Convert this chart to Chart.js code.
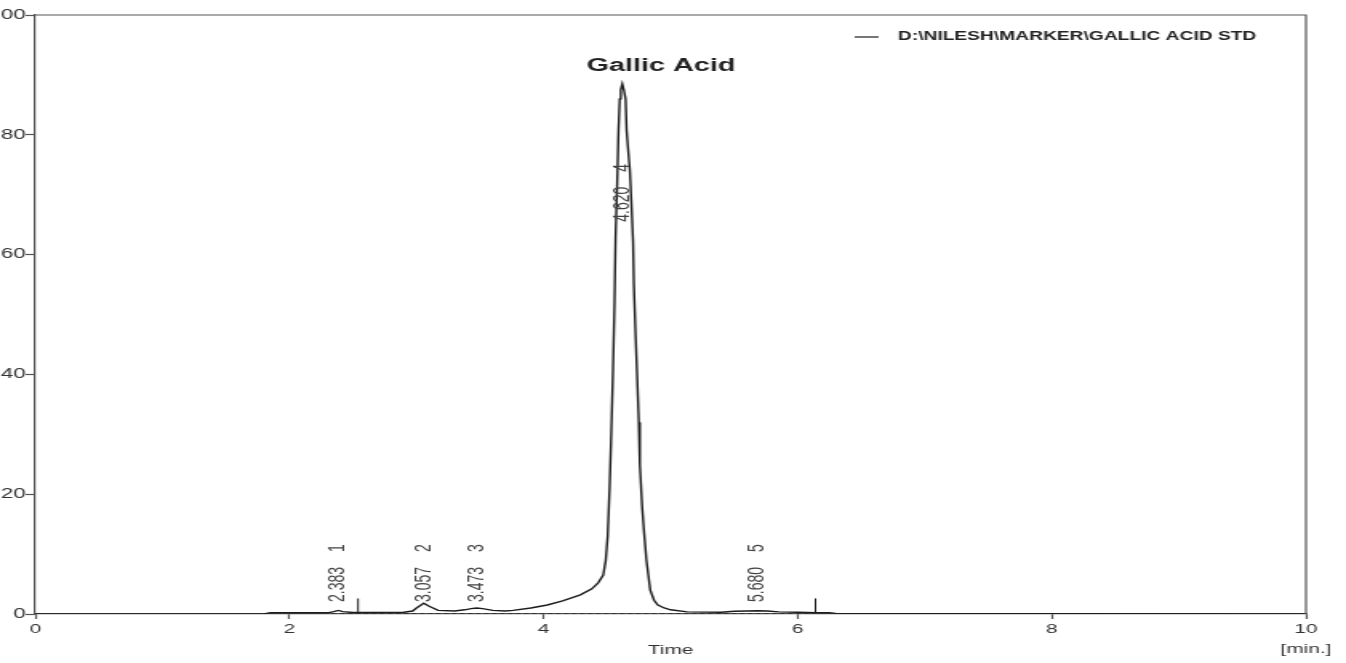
<!DOCTYPE html>
<html lang="en">
  <head>
    <meta charset="UTF-8" />
    <title>Gallic Acid STD chromatogram</title>
    <script src="https://cdn.jsdelivr.net/npm/chart.js@4.4.1/dist/chart.umd.min.js"></script>
    <style>
      body {
        margin: 0;
        background-color: white;
      }
      #chart {
        display: block;
      }
    </style>
  </head>

  <body>
    <!-- the original printout is stretched sideways, so draw narrow and let css widen it -->
    <canvas id="chart" width="841" height="663" style="width: 1346px; height: 663px"></canvas>

    <script>
      // retention time (min) and detector signal (mV)
      const timeMin = [
        0, 1.8, 1.85, 2.3, 2.35, 2.383, 2.42, 2.5, 2.9, 2.97, 3.0, 3.057, 3.1, 3.17,
        3.3, 3.38, 3.43, 3.473, 3.52, 3.6, 3.7, 3.76, 3.9, 4.03, 4.15, 4.29, 4.38,
        4.43, 4.47, 4.49, 4.505, 4.52, 4.533, 4.546, 4.559, 4.567, 4.58, 4.59, 4.6,
        4.608, 4.62, 4.632, 4.646, 4.654, 4.668, 4.68, 4.693, 4.705, 4.711, 4.724,
        4.738, 4.75, 4.758, 4.776, 4.79, 4.81, 4.84, 4.87, 4.9, 4.95, 5.0, 5.13, 5.4,
        5.5, 5.6, 5.68, 5.76, 5.85, 6.0, 6.15, 6.25, 6.3, 10,
      ];
      const signalMv = [
        0, 0, 0.2, 0.2, 0.4, 0.6, 0.4, 0.25, 0.3, 0.5, 1.0, 1.8, 1.3, 0.6,
        0.5, 0.7, 0.9, 1.0, 0.9, 0.6, 0.5, 0.6, 1.0, 1.5, 2.2, 3.2, 4.2,
        5.2, 6.5, 9, 13, 21, 30, 40, 52, 63, 72, 80.7, 86,
        87.5, 88.5, 87.5, 86, 80.7, 77, 74, 68, 62, 55, 47,
        39, 32, 25, 18, 14, 9, 4, 2.3, 1.5, 1.0, 0.7, 0.35, 0.3,
        0.45, 0.5, 0.55, 0.5, 0.35, 0.3, 0.2, 0.2, 0.1, 0,
      ];

      const peakTimes = [2.383, 3.057, 3.473, 4.62, 5.68];
      const peakNumbers = ["1", "2", "3", "4", "5"];
      const mainPeakName = "Gallic Acid";

      // integration cut marks and the drawn baseline
      const cutTimes = [2.54, 6.14];
      const cutHeight = 2.6;
      const baselineFrom = 1.83;
      const baselineTo = 6.3;

      const xTicks = [0, 2, 4, 6, 8, 10];
      const yTicks = [0, 20, 40, 60, 80, 100];
      const seriesName = "D:\\NILESH\\MARKER\\GALLIC ACID STD";

      const fontName = "'Liberation Sans', Arial, sans-serif";
      const ink = "#1c1c1c";
      const axisGrey = "#555";

      const trace = timeMin.map((t, i) => ({ x: t, y: signalMv[i] }));

      const cuts = [];
      cutTimes.forEach((t) => {
        cuts.push({ x: t, y: 0 }, { x: t, y: cutHeight }, { x: t, y: null });
      });

      function signalAt(t) {
        let best = 0;
        timeMin.forEach((v, i) => {
          if (Math.abs(v - t) < Math.abs(timeMin[best] - t)) best = i;
        });
        return signalMv[best];
      }

      const annotations = {
        id: "annotations",
        afterDatasetsDraw(chart) {
          const { ctx, chartArea } = chart;
          const xs = chart.scales.x;
          const ys = chart.scales.y;
          ctx.save();

          // frame top + right
          ctx.strokeStyle = axisGrey;
          ctx.lineWidth = 1.2;
          ctx.beginPath();
          ctx.moveTo(chartArea.left, chartArea.top);
          ctx.lineTo(chartArea.right, chartArea.top);
          ctx.lineTo(chartArea.right, chartArea.bottom);
          ctx.stroke();

          // legend
          ctx.font = "bold 12px " + fontName;
          ctx.fillStyle = "#222";
          ctx.textBaseline = "middle";
          ctx.textAlign = "right";
          const legY = chartArea.top + 22;
          const legRight = chartArea.right - 31;
          const legW = ctx.measureText(seriesName).width;
          ctx.fillText(seriesName, legRight, legY);
          ctx.strokeStyle = ink;
          ctx.lineWidth = 1.2;
          ctx.beginPath();
          ctx.moveTo(legRight - legW - 27, legY);
          ctx.lineTo(legRight - legW - 12, legY);
          ctx.stroke();

          // compound name
          ctx.font = "bold 18px " + fontName;
          ctx.fillStyle = "#222";
          ctx.textAlign = "center";
          ctx.fillText(mainPeakName, (chartArea.left + chartArea.right) / 2 - 6, chartArea.top + 51);

          // peak labels, rotated
          ctx.font = "14px " + fontName;
          ctx.fillStyle = "#444";
          ctx.textAlign = "left";
          peakTimes.forEach((t, i) => {
            const h = signalAt(t);
            const base = h > 10 ? h * 0.74 : 2;
            const label = t.toFixed(3);
            ctx.save();
            ctx.translate(xs.getPixelForValue(t), ys.getPixelForValue(base));
            ctx.rotate(-Math.PI / 2);
            ctx.fillText(label, 0, 0);
            ctx.fillText(peakNumbers[i], ctx.measureText(label).width + 15, 0);
            ctx.restore();
          });

          ctx.restore();
        },
      };

      const ctx = document.getElementById("chart").getContext("2d");
      const myChart = new Chart(ctx, {
        type: "line",
        data: {
          datasets: [
            {
              label: "baseline",
              data: [
                { x: baselineFrom, y: 0 },
                { x: baselineTo, y: 0 },
              ],
              borderColor: "#333",
              borderWidth: 2,
              borderDash: [3, 2],
              pointRadius: 0,
            },
            {
              label: seriesName,
              data: trace,
              borderColor: ink,
              borderWidth: 1.4,
              pointRadius: 0,
              tension: 0,
            },
            {
              label: "cuts",
              data: cuts,
              borderColor: ink,
              borderWidth: 1,
              pointRadius: 0,
              spanGaps: false,
            },
          ],
        },
        plugins: [annotations],
        options: {
          responsive: false,
          animation: false,
          devicePixelRatio: 1,
          layout: {
            padding: { top: 15, right: 25, left: 0, bottom: 0 },
          },
          scales: {
            x: {
              type: "linear",
              min: 0,
              max: 10,
              afterBuildTicks: (scale) => {
                scale.ticks = xTicks.map((v) => ({ value: v }));
              },
              afterFit: (scale) => {
                scale.height = 49;
              },
              ticks: {
                color: "#333",
                padding: 0,
                maxRotation: 0,
                font: { family: fontName, size: 13, lineHeight: 1.55 },
                callback: (v) => (v === 10 ? ["10", "[min.]"] : String(v)),
              },
              grid: {
                drawOnChartArea: false,
                tickLength: 5,
                tickColor: axisGrey,
                tickWidth: 1.2,
              },
              border: { color: axisGrey, width: 1.2 },
              title: {
                display: true,
                text: "Time",
                color: "#333",
                font: { family: fontName, size: 13 },
                padding: { top: 0, bottom: 5 },
              },
            },
            y: {
              min: 0,
              max: 100,
              afterBuildTicks: (scale) => {
                scale.ticks = yTicks.map((v) => ({ value: v }));
              },
              afterFit: (scale) => {
                scale.width = 22;
              },
              ticks: {
                color: "#333",
                padding: 0,
                font: { family: fontName, size: 14 },
              },
              grid: {
                drawOnChartArea: false,
                tickLength: 6,
                tickColor: axisGrey,
                tickWidth: 1.2,
              },
              border: { color: axisGrey, width: 1.2 },
            },
          },
          plugins: {
            legend: { display: false },
            tooltip: { enabled: false },
          },
        },
      });
    </script>
  </body>
</html>
